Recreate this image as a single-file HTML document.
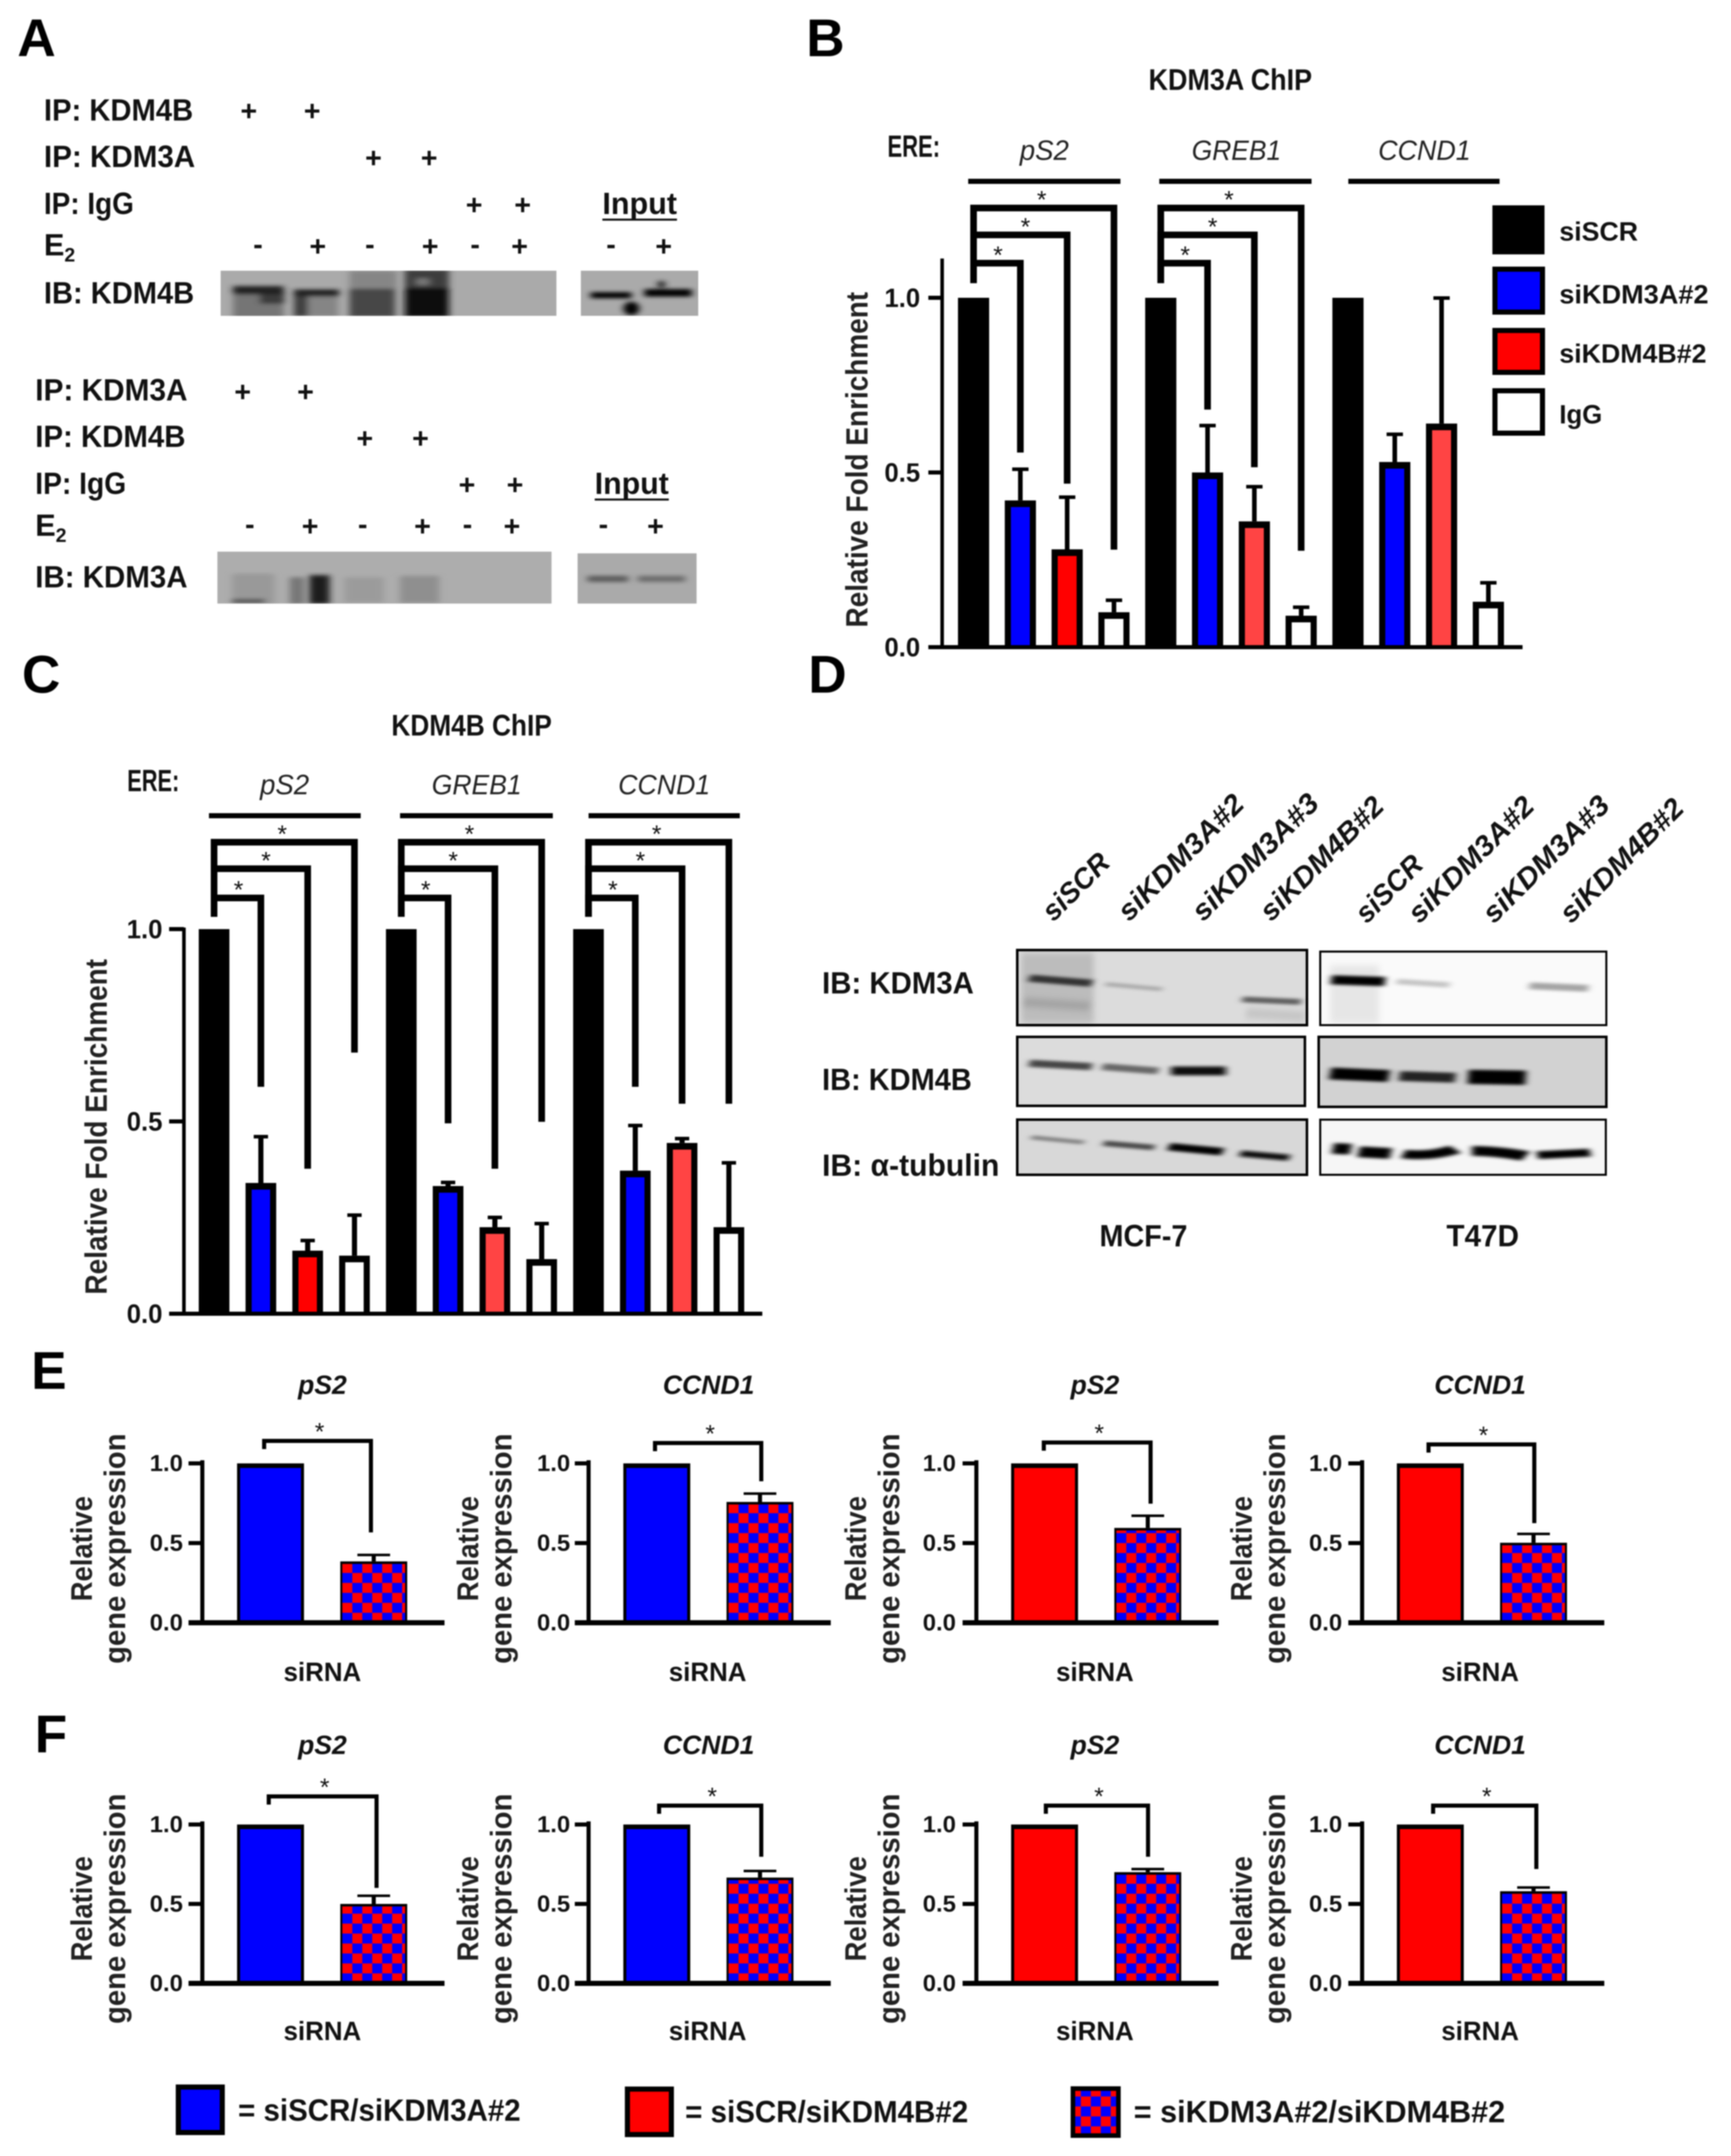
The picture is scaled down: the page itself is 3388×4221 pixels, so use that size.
<!DOCTYPE html>
<html lang="en">
<head>
<meta charset="utf-8">
<title>KDM3A and KDM4B figure</title>
<style>
html,body{margin:0;padding:0;background:#fff;width:3388px;height:4221px;overflow:hidden}
#figure{display:block;filter:blur(1.4px)}
text{font-family:"Liberation Sans",sans-serif;fill:#111}
.lt{font-weight:bold;font-size:104px;fill:#000}
.lb{font-weight:bold;font-size:60px}
.pm{font-weight:bold;font-size:56px;text-anchor:middle}
.ct{font-weight:bold;font-size:58px;text-anchor:middle}
.gn{font-style:italic;font-size:55px;text-anchor:middle;fill:#222}
.ax{font-weight:bold;font-size:60px;text-anchor:middle;fill:#222}
.lg{font-weight:bold;font-size:52px}
.rot{font-weight:bold;font-style:italic;font-size:56px}
.st{font-weight:bold;font-style:italic;font-size:52px;text-anchor:middle}
.si{font-weight:bold;font-size:52px;text-anchor:middle}
.sa{font-weight:bold;font-size:58px;text-anchor:middle;fill:#222}
.bl{font-weight:bold;font-size:60px}
</style>
</head>
<body>
<svg id="figure" xmlns="http://www.w3.org/2000/svg" width="3388" height="4221" viewBox="0 0 3388 4221">
<defs>
  <pattern id="checker" patternUnits="userSpaceOnUse" width="39" height="39">
    <rect width="39" height="39" fill="#0000ff"/>
    <rect x="0" y="0" width="19.5" height="19.5" fill="#ff0000"/>
    <rect x="19.5" y="19.5" width="19.5" height="19.5" fill="#ff0000"/>
  </pattern>
  <filter id="soft" x="-30%" y="-60%" width="160%" height="220%"><feGaussianBlur stdDeviation="11 11"/></filter>
  <filter id="softD" x="-30%" y="-100%" width="160%" height="300%"><feGaussianBlur stdDeviation="9 9"/></filter>
  <filter id="soft2" x="-20%" y="-20%" width="140%" height="140%"><feGaussianBlur stdDeviation="8 20"/></filter>
  <clipPath id="clipA1"><rect x="50" y="150" width="1030" height="265"/></clipPath>
  <clipPath id="clipA2"><rect x="40" y="120" width="1025" height="305"/></clipPath>
  <clipPath id="clipA3"><rect x="1155" y="150" width="360" height="265"/></clipPath>
  <clipPath id="clipD"><rect x="12" y="60" width="1510" height="1320"/></clipPath>
</defs>
<rect width="3388" height="4221" fill="#fff"/>

<!-- Panel letters -->
<text class="lt" x="34" y="110">A</text>
<text class="lt" x="1578" y="110">B</text>
<text class="lt" x="43" y="1356">C</text>
<text class="lt" x="1582" y="1356">D</text>
<text class="lt" x="61" y="2719">E</text>
<text class="lt" x="68" y="3431">F</text>

<!-- Panel A -->
<g>
  <text class="lb" x="86" y="236" textLength="292" lengthAdjust="spacingAndGlyphs">IP: KDM4B</text>
  <text class="lb" x="86" y="327" textLength="296" lengthAdjust="spacingAndGlyphs">IP: KDM3A</text>
  <text class="lb" x="86" y="419" textLength="176" lengthAdjust="spacingAndGlyphs">IP: IgG</text>
  <text class="lb" x="86" y="500">E<tspan font-size="38" dy="12">2</tspan></text>
  <text class="lb" x="86" y="594" textLength="294" lengthAdjust="spacingAndGlyphs">IB: KDM4B</text>
  <text class="pm" x="487" y="236">+</text>
  <text class="pm" x="611" y="236">+</text>
  <text class="pm" x="731" y="328">+</text>
  <text class="pm" x="840" y="328">+</text>
  <text class="pm" x="928" y="420">+</text>
  <text class="pm" x="1023" y="420">+</text>
  <text class="pm" x="505" y="497">-</text>
  <text class="pm" x="622" y="501">+</text>
  <text class="pm" x="724" y="497">-</text>
  <text class="pm" x="842" y="501">+</text>
  <text class="pm" x="930" y="497">-</text>
  <text class="pm" x="1017" y="501">+</text>
  <text class="pm" x="1196" y="497">-</text>
  <text class="pm" x="1299" y="501">+</text>
  <text class="lb" x="1179" y="419" textLength="146" lengthAdjust="spacingAndGlyphs">Input</text>
  <rect x="1179" y="428" width="146" height="4" fill="#111"/>

  <g transform="translate(400,480) scale(.638,.3333)">
    <rect x="50" y="150" width="1030" height="265" fill="#aaa"/>
    <g clip-path="url(#clipA1)"><g filter="url(#soft)">
      <rect x="88" y="240" width="155" height="190" fill="#757575"/>
      <rect x="170" y="265" width="75" height="80" fill="#3a3a3a"/>
      <rect x="88" y="240" width="155" height="50" fill="#222"/>
      <rect x="275" y="262" width="135" height="160" fill="#858585"/>
      <rect x="275" y="290" width="42" height="130" fill="#3c3c3c"/>
      <rect x="275" y="260" width="138" height="42" fill="#222"/>
      <rect x="445" y="150" width="145" height="110" fill="#868686"/>
      <rect x="445" y="255" width="140" height="170" fill="#464646"/>
      <rect x="615" y="140" width="135" height="120" fill="#3c3c3c"/>
      <rect x="650" y="195" width="40" height="40" fill="#777"/>
      <rect x="615" y="250" width="135" height="175" fill="#0e0e0e"/>
    </g></g>
    <rect x="1155" y="150" width="360" height="265" fill="#aaa"/>
    <g clip-path="url(#clipA3)"><g filter="url(#soft)">
      <rect x="1185" y="276" width="125" height="36" fill="#000"/>
      <ellipse cx="1310" cy="372" rx="24" ry="40" fill="#000"/>
      <rect x="1350" y="258" width="145" height="44" fill="#000"/>
      <ellipse cx="1402" cy="230" rx="12" ry="22" fill="#222"/>
    </g></g>
  </g>

  <text class="lb" x="69" y="784" textLength="298" lengthAdjust="spacingAndGlyphs">IP: KDM3A</text>
  <text class="lb" x="69" y="875" textLength="294" lengthAdjust="spacingAndGlyphs">IP: KDM4B</text>
  <text class="lb" x="69" y="967" textLength="178" lengthAdjust="spacingAndGlyphs">IP: IgG</text>
  <text class="lb" x="69" y="1049">E<tspan font-size="38" dy="12">2</tspan></text>
  <text class="lb" x="69" y="1150" textLength="298" lengthAdjust="spacingAndGlyphs">IB: KDM3A</text>
  <text class="pm" x="475" y="786">+</text>
  <text class="pm" x="598" y="786">+</text>
  <text class="pm" x="714" y="877">+</text>
  <text class="pm" x="823" y="877">+</text>
  <text class="pm" x="914" y="968">+</text>
  <text class="pm" x="1008" y="968">+</text>
  <text class="pm" x="489" y="1045">-</text>
  <text class="pm" x="607" y="1049">+</text>
  <text class="pm" x="710" y="1045">-</text>
  <text class="pm" x="827" y="1049">+</text>
  <text class="pm" x="915" y="1045">-</text>
  <text class="pm" x="1002" y="1049">+</text>
  <text class="pm" x="1181" y="1045">-</text>
  <text class="pm" x="1283" y="1049">+</text>
  <text class="lb" x="1164" y="967" textLength="145" lengthAdjust="spacingAndGlyphs">Input</text>
  <rect x="1164" y="976" width="145" height="4" fill="#111"/>

  <g transform="translate(400,1040) scale(.638,.3333)">
    <rect x="40" y="120" width="1025" height="305" fill="#adadad"/>
    <g clip-path="url(#clipA2)"><g filter="url(#soft)">
      <rect x="85" y="250" width="130" height="180" fill="#999"/>
      <rect x="85" y="400" width="100" height="20" fill="#333"/>
      <rect x="262" y="270" width="45" height="160" fill="#777"/>
      <rect x="322" y="258" width="62" height="170" fill="#1c1c1c"/>
      <rect x="430" y="270" width="120" height="150" fill="#9b9b9b"/>
      <rect x="600" y="262" width="120" height="160" fill="#8f8f8f"/>
    </g></g>
    <rect x="1145" y="130" width="365" height="295" fill="#aaa"/>
    <g filter="url(#soft)">
      <rect x="1175" y="262" width="125" height="36" fill="#5c5c5c"/>
      <rect x="1330" y="262" width="145" height="36" fill="#6c6c6c"/>
    </g>
  </g>
</g>

<!-- Panel B -->
<g id="chartB">
  <text class="ct" x="2408" y="176" textLength="320" lengthAdjust="spacingAndGlyphs">KDM3A ChIP</text>
  <text class="lb" x="1737" y="307" textLength="103" lengthAdjust="spacingAndGlyphs" font-size="50">ERE:</text>
  <text class="gn" x="2044" y="313" textLength="96" lengthAdjust="spacingAndGlyphs">pS2</text>
  <text class="gn" x="2420" y="313" textLength="175" lengthAdjust="spacingAndGlyphs">GREB1</text>
  <text class="gn" x="2788" y="313" textLength="181" lengthAdjust="spacingAndGlyphs">CCND1</text>
  <rect x="1895" y="350" width="298" height="10" fill="#000"/>
  <rect x="2269" y="350" width="298" height="10" fill="#000"/>
  <rect x="2639" y="350" width="296" height="10" fill="#000"/>
  <text class="ax" transform="translate(1698,900) rotate(-90)" textLength="657" lengthAdjust="spacingAndGlyphs">Relative Fold Enrichment</text>
  <rect x="2921" y="402" width="102" height="96" fill="#000"/>
  <rect x="2926" y="527" width="93" height="84" fill="#0000ff" stroke="#000" stroke-width="10"/>
  <rect x="2926" y="647" width="93" height="82" fill="#ff0000" stroke="#000" stroke-width="10"/>
  <rect x="2926" y="765" width="93" height="83" fill="#fff" stroke="#000" stroke-width="10"/>
  <text class="lg" x="3052" y="471" textLength="154" lengthAdjust="spacingAndGlyphs">siSCR</text>
  <text class="lg" x="3052" y="594" textLength="292" lengthAdjust="spacingAndGlyphs">siKDM3A#2</text>
  <text class="lg" x="3052" y="710" textLength="288" lengthAdjust="spacingAndGlyphs">siKDM4B#2</text>
  <text class="lg" x="3052" y="829" textLength="84" lengthAdjust="spacingAndGlyphs">IgG</text>
</g>

<!-- Panel C -->
<g id="chartC">
  <text class="ct" x="923" y="1440" textLength="314" lengthAdjust="spacingAndGlyphs">KDM4B ChIP</text>
  <text class="lb" x="249" y="1549" textLength="102" lengthAdjust="spacingAndGlyphs" font-size="50">ERE:</text>
  <text class="gn" x="557" y="1555" textLength="96" lengthAdjust="spacingAndGlyphs">pS2</text>
  <text class="gn" x="933" y="1555" textLength="176" lengthAdjust="spacingAndGlyphs">GREB1</text>
  <text class="gn" x="1300" y="1555" textLength="180" lengthAdjust="spacingAndGlyphs">CCND1</text>
  <rect x="409" y="1592" width="297" height="10" fill="#000"/>
  <rect x="783" y="1592" width="299" height="10" fill="#000"/>
  <rect x="1152" y="1592" width="296" height="10" fill="#000"/>
  <text class="ax" transform="translate(209,2206) rotate(-90)" textLength="657" lengthAdjust="spacingAndGlyphs">Relative Fold Enrichment</text>
</g>

<!-- Panel D -->
<g>
  <text class="rot" transform="translate(2062,1806) rotate(-45)" textLength="161" lengthAdjust="spacingAndGlyphs">siSCR</text>
  <text class="rot" transform="translate(2210,1806) rotate(-45)" textLength="323" lengthAdjust="spacingAndGlyphs">siKDM3A#2</text>
  <text class="rot" transform="translate(2355,1806) rotate(-45)" textLength="325" lengthAdjust="spacingAndGlyphs">siKDM3A#3</text>
  <text class="rot" transform="translate(2488,1806) rotate(-45)" textLength="317" lengthAdjust="spacingAndGlyphs">siKDM4B#2</text>
  <text class="rot" transform="translate(2675,1810) rotate(-45)" textLength="161" lengthAdjust="spacingAndGlyphs">siSCR</text>
  <text class="rot" transform="translate(2778,1810) rotate(-45)" textLength="323" lengthAdjust="spacingAndGlyphs">siKDM3A#2</text>
  <text class="rot" transform="translate(2924,1810) rotate(-45)" textLength="325" lengthAdjust="spacingAndGlyphs">siKDM3A#3</text>
  <text class="rot" transform="translate(3075,1810) rotate(-45)" textLength="317" lengthAdjust="spacingAndGlyphs">siKDM4B#2</text>
  <text class="lb" x="1609" y="1945" textLength="297" lengthAdjust="spacingAndGlyphs">IB: KDM3A</text>
  <text class="lb" x="1609" y="2134" textLength="293" lengthAdjust="spacingAndGlyphs">IB: KDM4B</text>
  <text class="lb" x="1609" y="2302" textLength="347" lengthAdjust="spacingAndGlyphs">IB: α-tubulin</text>
  <text class="lb" x="2152" y="2440" textLength="172" lengthAdjust="spacingAndGlyphs">MCF-7</text>
  <text class="lb" x="2831" y="2440" textLength="142" lengthAdjust="spacingAndGlyphs">T47D</text>

  <g transform="translate(1980,1840) scale(.765,.3333)" clip-path="url(#clipD)">
    <rect x="12" y="60" width="743" height="440" fill="#dcdcdc"/>
    <rect x="787" y="68" width="735" height="432" fill="#fafafa"/>
    <rect x="12" y="570" width="738" height="405" fill="#dcdcdc"/>
    <rect x="783" y="570" width="739" height="412" fill="#d2d2d2"/>
    <rect x="12" y="1057" width="743" height="323" fill="#d8d8d8"/>
    <rect x="787" y="1057" width="733" height="323" fill="#f6f6f6"/>
    <g filter="url(#soft2)">
      <rect x="25" y="75" width="185" height="415" fill="#bcbcbc"/>
      <rect x="815" y="150" width="125" height="340" fill="#e6e6e6"/>
      <path d="M30 365 L200 390" stroke="#a0a0a0" stroke-width="50" fill="none"/>
      <path d="M600 430 L750 450" stroke="#c4c4c4" stroke-width="60" fill="none"/>
    </g>
    <g filter="url(#softD)" fill="none">
      <path d="M45 225 L205 255" stroke="#333" stroke-width="42"/>
      <path d="M240 260 L385 290" stroke="#aaa" stroke-width="24"/>
      <path d="M590 350 L740 365" stroke="#5e5e5e" stroke-width="34"/>
      <path d="M818 235 L955 245" stroke="#000" stroke-width="54"/>
      <path d="M985 245 L1120 265" stroke="#c4c4c4" stroke-width="32"/>
      <path d="M1325 270 L1475 285" stroke="#a4a4a4" stroke-width="40"/>
      <path d="M45 725 L205 745" stroke="#444" stroke-width="42"/>
      <path d="M232 745 L375 770" stroke="#666" stroke-width="40"/>
      <path d="M408 770 L548 770" stroke="#111" stroke-width="52"/>
      <path d="M815 785 L965 800" stroke="#000" stroke-width="70"/>
      <path d="M992 800 L1135 810" stroke="#222" stroke-width="58"/>
      <path d="M1168 805 L1315 810" stroke="#000" stroke-width="84"/>
      <path d="M50 1160 L185 1190" stroke="#808080" stroke-width="24"/>
      <path d="M235 1195 L365 1220" stroke="#4a4a4a" stroke-width="32"/>
      <path d="M402 1215 L540 1245" stroke="#000" stroke-width="44"/>
      <path d="M585 1255 L710 1280" stroke="#111" stroke-width="36"/>
      <path d="M822 1225 L868 1230" stroke="#000" stroke-width="64"/>
      <path d="M888 1245 L970 1255" stroke="#000" stroke-width="64"/>
      <path d="M1002 1258 Q1070 1275 1135 1230" stroke="#000" stroke-width="52"/>
      <path d="M1178 1240 Q1240 1240 1315 1270" stroke="#000" stroke-width="58"/>
      <path d="M1345 1265 L1480 1250" stroke="#000" stroke-width="46"/>
    </g>
  </g>
  <rect x="1991" y="1860" width="567" height="147" fill="none" stroke="#000" stroke-width="5"/>
  <rect x="2584" y="1863" width="560" height="144" fill="none" stroke="#000" stroke-width="4"/>
  <rect x="1991" y="2030" width="563" height="135" fill="none" stroke="#000" stroke-width="5"/>
  <rect x="2581" y="2030" width="563" height="137" fill="none" stroke="#000" stroke-width="5"/>
  <rect x="1991" y="2192" width="567" height="108" fill="none" stroke="#000" stroke-width="5"/>
  <rect x="2584" y="2192" width="559" height="108" fill="none" stroke="#000" stroke-width="4"/>
</g>

<!-- Panels E and F small charts -->
<g id="chartE1">
  <text class="st" x="631" y="2729">pS2</text>
  <text class="si" x="631" y="3291" textLength="152" lengthAdjust="spacingAndGlyphs">siRNA</text>
  <text class="sa" transform="translate(180,3032) rotate(-90)" textLength="206" lengthAdjust="spacingAndGlyphs">Relative</text>
  <text class="sa" transform="translate(245,3032) rotate(-90)" textLength="451" lengthAdjust="spacingAndGlyphs">gene expression</text>
</g>
<g id="chartE2">
  <text class="st" x="1387" y="2729">CCND1</text>
  <text class="si" x="1385" y="3291" textLength="152" lengthAdjust="spacingAndGlyphs">siRNA</text>
  <text class="sa" transform="translate(936,3032) rotate(-90)" textLength="206" lengthAdjust="spacingAndGlyphs">Relative</text>
  <text class="sa" transform="translate(1001,3032) rotate(-90)" textLength="451" lengthAdjust="spacingAndGlyphs">gene expression</text>
</g>
<g id="chartE3">
  <text class="st" x="2143" y="2729">pS2</text>
  <text class="si" x="2143" y="3291" textLength="152" lengthAdjust="spacingAndGlyphs">siRNA</text>
  <text class="sa" transform="translate(1695,3032) rotate(-90)" textLength="206" lengthAdjust="spacingAndGlyphs">Relative</text>
  <text class="sa" transform="translate(1760,3032) rotate(-90)" textLength="451" lengthAdjust="spacingAndGlyphs">gene expression</text>
</g>
<g id="chartE4">
  <text class="st" x="2897" y="2729">CCND1</text>
  <text class="si" x="2897" y="3291" textLength="152" lengthAdjust="spacingAndGlyphs">siRNA</text>
  <text class="sa" transform="translate(2450,3032) rotate(-90)" textLength="206" lengthAdjust="spacingAndGlyphs">Relative</text>
  <text class="sa" transform="translate(2515,3032) rotate(-90)" textLength="451" lengthAdjust="spacingAndGlyphs">gene expression</text>
</g>
<g id="chartF1">
  <text class="st" x="631" y="3434">pS2</text>
  <text class="si" x="631" y="3994" textLength="152" lengthAdjust="spacingAndGlyphs">siRNA</text>
  <text class="sa" transform="translate(180,3737) rotate(-90)" textLength="206" lengthAdjust="spacingAndGlyphs">Relative</text>
  <text class="sa" transform="translate(245,3737) rotate(-90)" textLength="451" lengthAdjust="spacingAndGlyphs">gene expression</text>
</g>
<g id="chartF2">
  <text class="st" x="1387" y="3434">CCND1</text>
  <text class="si" x="1385" y="3994" textLength="152" lengthAdjust="spacingAndGlyphs">siRNA</text>
  <text class="sa" transform="translate(936,3737) rotate(-90)" textLength="206" lengthAdjust="spacingAndGlyphs">Relative</text>
  <text class="sa" transform="translate(1001,3737) rotate(-90)" textLength="451" lengthAdjust="spacingAndGlyphs">gene expression</text>
</g>
<g id="chartF3">
  <text class="st" x="2143" y="3434">pS2</text>
  <text class="si" x="2143" y="3994" textLength="152" lengthAdjust="spacingAndGlyphs">siRNA</text>
  <text class="sa" transform="translate(1695,3737) rotate(-90)" textLength="206" lengthAdjust="spacingAndGlyphs">Relative</text>
  <text class="sa" transform="translate(1760,3737) rotate(-90)" textLength="451" lengthAdjust="spacingAndGlyphs">gene expression</text>
</g>
<g id="chartF4">
  <text class="st" x="2897" y="3434">CCND1</text>
  <text class="si" x="2897" y="3994" textLength="152" lengthAdjust="spacingAndGlyphs">siRNA</text>
  <text class="sa" transform="translate(2450,3737) rotate(-90)" textLength="206" lengthAdjust="spacingAndGlyphs">Relative</text>
  <text class="sa" transform="translate(2515,3737) rotate(-90)" textLength="451" lengthAdjust="spacingAndGlyphs">gene expression</text>
</g>

<!-- Bottom legend -->
<g>
  <rect x="349" y="4086" width="86" height="89" fill="#0000ff" stroke="#000" stroke-width="10"/>
  <text class="bl" x="466" y="4152" textLength="553" lengthAdjust="spacingAndGlyphs">= siSCR/siKDM3A#2</text>
  <rect x="1228" y="4090" width="86" height="89" fill="#ff0000" stroke="#000" stroke-width="10"/>
  <text class="bl" x="1341" y="4155" textLength="554" lengthAdjust="spacingAndGlyphs">= siSCR/siKDM4B#2</text>
  <g transform="translate(2096,4085)">
    <rect x="4" y="4" width="89" height="92" fill="url(#checker)" stroke="#000" stroke-width="9"/>
  </g>
  <text class="bl" x="2219" y="4155" textLength="727" lengthAdjust="spacingAndGlyphs">= siKDM3A#2/siKDM4B#2</text>
</g>
</svg>

<script>
/* ---------- Chart data ---------- */
const tickValues = [0, 0.5, 1];
const tickLabels = ['0.0', '0.5', '1.0'];
const chipCategories = ['pS2', 'GREB1', 'CCND1'];
const chipSeries = ['siSCR', 'siKDM3A#2', 'siKDM4B#2', 'IgG'];

const chipBValues = [1, 0.42, 0.28, 0.10, 1, 0.50, 0.36, 0.09, 1, 0.53, 0.64, 0.13];
const chipBErrorTops = [1, 0.51, 0.43, 0.135, 1, 0.635, 0.46, 0.115, 1, 0.61, 1.0, 0.185];
const chipBBracketLevels = [1.099, 1.18, 1.257];
const chipBBracketDrops = [[0.557, 0.468, 0.279], [0.68, 0.515, 0.276]];

const chipCValues = [1, 0.34, 0.164, 0.151, 1, 0.332, 0.225, 0.142, 1, 0.372, 0.444, 0.225];
const chipCErrorTops = [1, 0.461, 0.191, 0.257, 1, 0.342, 0.251, 0.235, 1, 0.49, 0.456, 0.393];
const chipCBracketLevels = [1.081, 1.157, 1.226];
const chipCBracketDrops = [[0.59, 0.377, 0.679], [0.495, 0.377, 0.499], [0.59, 0.546, 0.546]];

const panelEValues = [0.385, 0.758, 0.595, 0.502];
const panelEErrorTops = [0.427, 0.812, 0.673, 0.559];
const panelEBracketLevels = [1.141, 1.128, 1.131, 1.119];
const panelEBracketDrops = [0.567, 0.888, 0.747, 0.625];

const panelFValues = [0.50, 0.666, 0.70, 0.58];
const panelFErrorTops = [0.553, 0.709, 0.721, 0.605];
const panelFBracketLevels = [1.177, 1.119, 1.119, 1.119];
const panelFBracketDrops = [0.601, 0.797, 0.797, 0.72];

/* ---------- Styling, kept apart from the data ---------- */
const chipBFills = ['#000', '#0000ff', '#ff0000', '#fff', '#000', '#0000ff', '#ff4444', '#fff', '#000', '#0000ff', '#ff4444', '#fff'];
const chipCFills = ['#000', '#0000ff', '#ff0000', '#fff', '#000', '#0000ff', '#ff4444', '#fff', '#000', '#0000ff', '#ff4444', '#fff'];
const smallFirstFills = ['#0000ff', '#0000ff', '#ff0000', '#ff0000'];
const chipStarOffsets = [2, 10, -4];

const NS = 'http://www.w3.org/2000/svg';

function addRect(parent, x, y, w, h, fill, name) {
  const el = document.createElementNS(NS, 'rect');
  el.setAttribute('x', x);
  el.setAttribute('y', y);
  el.setAttribute('width', w);
  el.setAttribute('height', h);
  el.setAttribute('fill', fill);
  
  
  parent.appendChild(el);
  return el;
}

function addText(parent, x, y, str, size, anchor, weight, len, name) {
  const el = document.createElementNS(NS, 'text');
  el.setAttribute('x', x);
  el.setAttribute('y', y);
  el.setAttribute('font-size', size);
  el.setAttribute('text-anchor', anchor);
  el.setAttribute('font-weight', weight);
  if (len) {
    el.setAttribute('textLength', len);
    el.setAttribute('lengthAdjust', 'spacingAndGlyphs');
  }
  el.textContent = str;
  
  
  parent.appendChild(el);
  return el;
}

function addBracket(parent, left, right, yTop, yLeg, yDrop, width, name) {
  const el = document.createElementNS(NS, 'path');
  el.setAttribute('d', 'M' + left + ' ' + yLeg + ' L' + left + ' ' + yTop + ' L' + right + ' ' + yTop + ' L' + right + ' ' + yDrop);
  el.setAttribute('fill', 'none');
  el.setAttribute('stroke', '#000');
  el.setAttribute('stroke-width', width);
  
  
  parent.appendChild(el);
  return el;
}

function drawAxes(g, axisX, axisW, tickLeft, baseRight, baseH, yOf, axisTopVal, labelRight, labelSize, labelLen, labelDy) {
  addRect(g, axisX - axisW / 2, yOf(axisTopVal) - 3, axisW, yOf(0) - yOf(axisTopVal) + 3, '#000', 'y-axis-line');
  addRect(g, tickLeft, yOf(0) - baseH / 2, baseRight - tickLeft, baseH, '#000', 'x-axis-line');
  tickValues.forEach(function (v, i) {
    addRect(g, tickLeft, yOf(v) - 4, axisX - tickLeft, 8, '#000', 'y-axis-tick');
    addText(g, labelRight, yOf(v) + labelDy, tickLabels[i], labelSize, 'end', 'bold', labelLen, 'y-axis-tick-label');
  });
}

function drawChip(g, values, errors, fills, levels, drops, o) {
  const yOf = function (v) { return o.base - v * o.unit; };
  const xOf = function (i) { return o.start + i * o.pitch; };
  const cx = function (i) { return xOf(i) + o.barW / 2; };
  values.forEach(function (v, i) {
    if (errors[i] > v) {
      addRect(g, cx(i) - o.stem / 2, yOf(errors[i]), o.stem, yOf(v) - yOf(errors[i]), '#000', 'error-bar-stem');
      addRect(g, cx(i) - o.cap / 2, yOf(errors[i]) - 3, o.cap, 7, '#000', 'error-bar-cap');
    }
    const top = yOf(v);
    addRect(g, xOf(i), top, o.barW, o.base - top, '#000', 'bar-' + chipCategories[Math.floor(i / 4)] + '-' + chipSeries[i % 4]);
    if (fills[i] !== '#000') {
      addRect(g, xOf(i) + o.side, top + o.topB, o.barW - 2 * o.side, Math.max(0, o.base - top - o.topB), fills[i], 'bar-fill');
    }
  });
  drops.forEach(function (groupDrops, gi) {
    groupDrops.forEach(function (drop, k) {
      const left = cx(gi * 4);
      const right = cx(gi * 4 + k + 1);
      addBracket(g, left, right, yOf(levels[k]), yOf(o.legVal), yOf(drop), 13, 'significance-bracket');
      addText(g, (left + right) / 2 + chipStarOffsets[k], yOf(levels[k]), '*', 48, 'middle', 'normal', 0, 'significance-star');
    });
  });
  drawAxes(g, o.axisX, 7, o.tickLeft, o.baseRight, 8, yOf, o.axisTop, o.labelRight, 52, 70, 18);
}

drawChip(document.getElementById('chartB'), chipBValues, chipBErrorTops, chipBFills, chipBBracketLevels, chipBBracketDrops, {
  base: 1267, unit: 684, start: 1875, pitch: 91.6, barW: 61, side: 12, topB: 13, stem: 9, cap: 32,
  legVal: 1.042, axisX: 1844, tickLeft: 1817, baseRight: 2980, axisTop: 1.108, labelRight: 1801
});
drawChip(document.getElementById('chartC'), chipCValues, chipCErrorTops, chipCFills, chipCBracketLevels, chipCBracketDrops, {
  base: 2572, unit: 753, start: 389, pitch: 91.6, barW: 60, side: 12, topB: 13, stem: 10, cap: 28,
  legVal: 1.032, axisX: 360, tickLeft: 331, baseRight: 1492, axisTop: 1.0, labelRight: 318
});

const smallAxisX = [396, 1152, 1911, 2666];
const smallLabelRight = [358, 1116, 1871, 2627];
const bracketLeftE = [517, 1282, 2043, 2796];
const bracketRightE = [726, 1490, 2252, 3003];
const bracketLeftF = [526, 1290, 2047, 2805];
const bracketRightF = [737, 1490, 2247, 3007];

function drawSmall(g, idx, value, errorTop, level, drop, base, unit, bLeft, bRight) {
  const yOf = function (v) { return base - v * unit; };
  const axisX = smallAxisX[idx];
  const barW = 131;
  const x1 = axisX + 68;
  const x2 = axisX + 270;
  addRect(g, x1, yOf(1), barW, unit, '#000', 'bar-siscr-single-knockdown');
  addRect(g, x1 + 6, yOf(1) + 9, barW - 12, unit - 9, smallFirstFills[idx], 'bar-fill');
  const c2 = x2 + barW / 2;
  addRect(g, c2 - 4, yOf(errorTop), 8, yOf(value) - yOf(errorTop), '#000', 'error-bar-stem');
  addRect(g, c2 - 32, yOf(errorTop) - 2, 64, 5, '#000', 'error-bar-cap');
  addRect(g, x2, yOf(value), barW, base - yOf(value), '#000', 'bar-double-knockdown');
  const holder = document.createElementNS(NS, 'g');
  holder.setAttribute('transform', 'translate(' + (x2 + 4) + ',' + base + ')');
  
  
  g.appendChild(holder);
  addRect(holder, 0, -(base - yOf(value) - 5), barW - 8, base - yOf(value) - 5, 'url(#checker)', 'bar-checker-fill');
  addBracket(g, bLeft, bRight, yOf(level), yOf(level) + 16, yOf(drop), 8, 'significance-bracket');
  addText(g, (bLeft + bRight) / 2 + 4, yOf(level) - 2, '*', 48, 'middle', 'normal', 0, 'significance-star');
  drawAxes(g, axisX, 8, axisX - 27, axisX + 474, 10, yOf, 1.01, smallLabelRight[idx], 45, 65, 15);
}

['chartE1', 'chartE2', 'chartE3', 'chartE4'].forEach(function (id, i) {
  drawSmall(document.getElementById(id), i, panelEValues[i], panelEErrorTops[i], panelEBracketLevels[i], panelEBracketDrops[i], 3177, 312, bracketLeftE[i], bracketRightE[i]);
});
['chartF1', 'chartF2', 'chartF3', 'chartF4'].forEach(function (id, i) {
  drawSmall(document.getElementById(id), i, panelFValues[i], panelFErrorTops[i], panelFBracketLevels[i], panelFBracketDrops[i], 3883, 311, bracketLeftF[i], bracketRightF[i]);
});
</script>
</body>
</html>
